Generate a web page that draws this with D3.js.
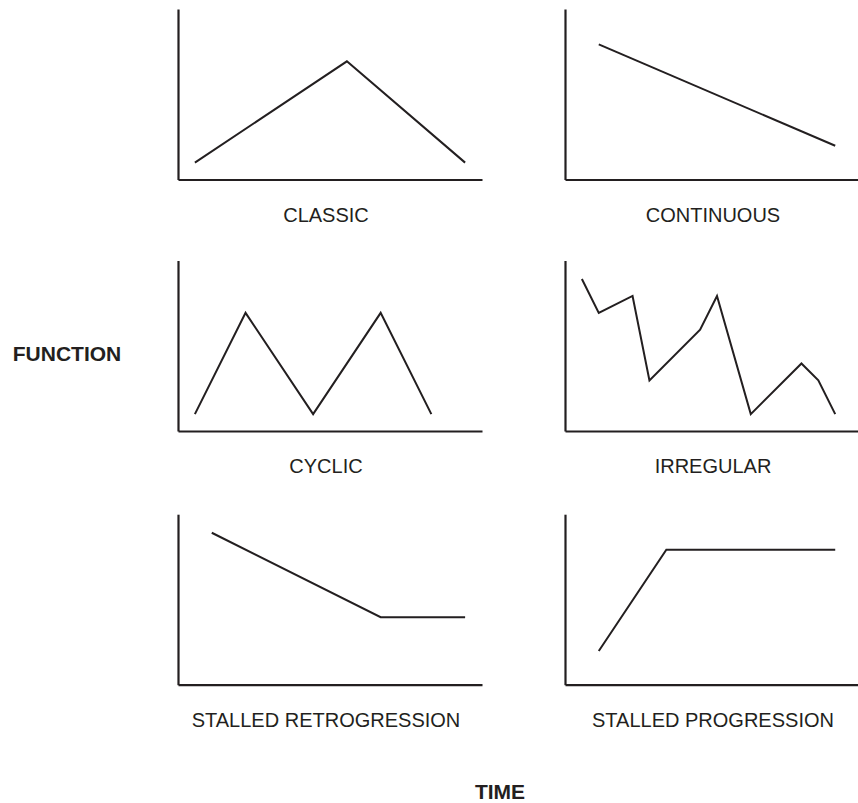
<!DOCTYPE html>
<html>
<head>
<meta charset="utf-8">
<script src="https://cdn.jsdelivr.net/npm/d3@7"></script>
<style>
  body { margin: 0; background: #fff; }
  svg { display: block; }
  .label { font-family: "Liberation Sans", Arial, sans-serif; font-size: 20px; fill: #231f20; }
  .title { font-family: "Liberation Sans", Arial, sans-serif; font-size: 21px; font-weight: bold; fill: #231f20; }
</style>
</head>
<body>
<svg id="chart"></svg>
<script>
// Panel names, in reading order
const panelNames = ["CLASSIC", "CONTINUOUS", "CYCLIC", "IRREGULAR", "STALLED RETROGRESSION", "STALLED PROGRESSION"];

// Time (x) and function (y) values for each panel, in grid units
const classicX = [1, 10, 17];
const classicY = [1, 7, 1];
const continuousX = [2, 16];
const continuousY = [8, 2];
const cyclicX = [1, 4, 8, 12, 15];
const cyclicY = [1, 7, 1, 7, 1];
const irregularX = [1, 2, 4, 5, 8, 9, 11, 14, 15, 16];
const irregularY = [9, 7, 8, 3, 6, 8, 1, 4, 3, 1];
const retroX = [2, 12, 17];
const retroY = [9, 4, 4];
const progX = [2, 6, 16];
const progY = [2, 8, 8];

const seriesX = [classicX, continuousX, cyclicX, irregularX, retroX, progX];
const seriesY = [classicY, continuousY, cyclicY, irregularY, retroY, progY];

const width = 858, height = 803;
const svg = d3.select("#chart").attr("width", width).attr("height", height);

const ink = "#231f20";
const pw = 304, ph = 170.5;
const colX = [178, 565];
const rowBottom = [179.5, 431, 684.7];
const labelX = [326, 713];

const x = d3.scaleLinear().domain([0, 18]).range([0, pw]);
const y = d3.scaleLinear().domain([0, 10.1]).range([ph, 0]);

const line = d3.line()
    .x(d => x(d[0]))
    .y(d => y(d[1]));

panelNames.forEach((name, i) => {
    const col = i % 2, row = Math.floor(i / 2);
    const g = svg.append("g")
        .attr("transform", `translate(${colX[col]},${rowBottom[row] - ph})`);

    // Bare axes: no ticks, only the domain lines
    const ay = g.append("g").call(d3.axisLeft(y).ticks(0).tickSizeOuter(0));
    const ax = g.append("g").attr("transform", `translate(0,${ph})`)
        .call(d3.axisBottom(x).ticks(0).tickSizeOuter(0));
    [ax, ay].forEach(a => a.select(".domain")
        .attr("stroke", ink).attr("stroke-width", 2.2));

    const pts = seriesX[i].map((v, k) => [v, seriesY[i][k]]);
    g.append("path")
        .datum(pts)
        .attr("fill", "none")
        .attr("stroke", ink)
        .attr("stroke-width", 2)
        .attr("stroke-linejoin", "miter")
        .attr("d", line);

    svg.append("text")
        .attr("class", "label")
        .attr("x", labelX[col])
        .attr("y", rowBottom[row] + 42)
        .attr("text-anchor", "middle")
        .text(name);
});

// Axis titles
svg.append("text").attr("class", "title")
    .attr("x", 67).attr("y", 361)
    .attr("text-anchor", "middle")
    .text("FUNCTION");

svg.append("text").attr("class", "title")
    .attr("x", 500).attr("y", 799)
    .attr("text-anchor", "middle")
    .text("TIME");
</script>
</body>
</html>
